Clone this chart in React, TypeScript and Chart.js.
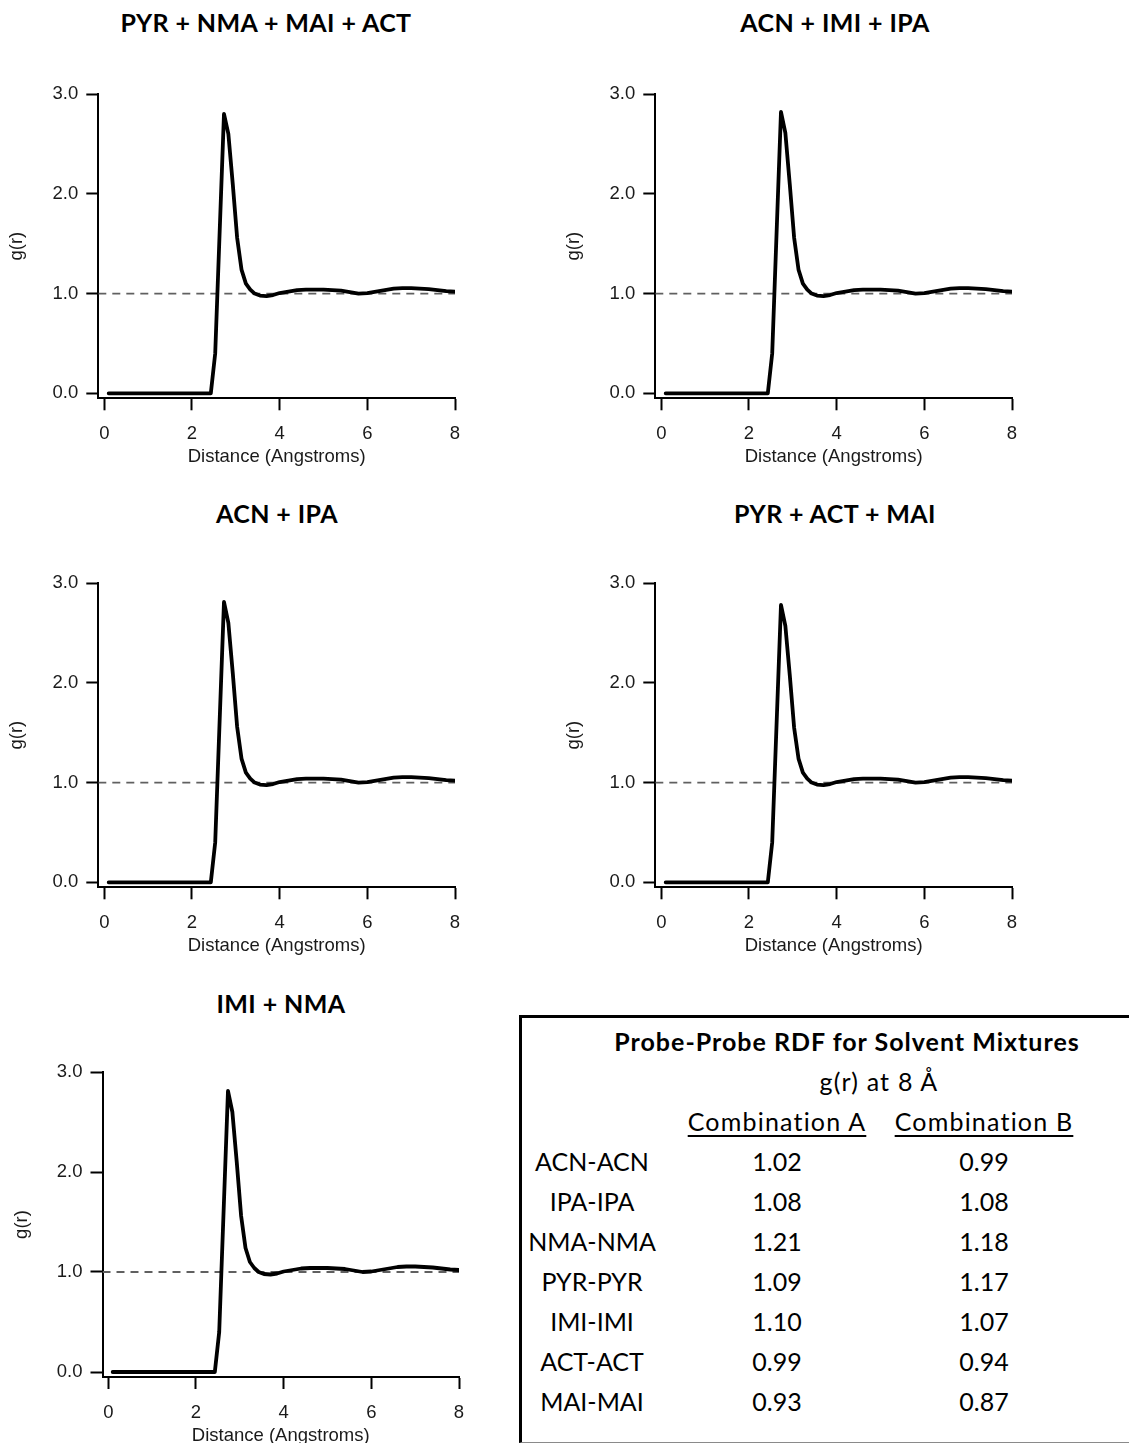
import React, { useEffect, useRef } from "react";
import { Chart, registerables } from "chart.js";

Chart.register(...registerables);

// ---------- DATA ----------
const R = [0.1, 2.43, 2.53, 2.73, 2.83, 2.93, 3.03, 3.13, 3.23, 3.33, 3.43, 3.55, 3.7, 3.85, 4.0, 4.2, 4.4, 4.6, 4.8, 5.0, 5.2, 5.4, 5.6, 5.8, 6.0, 6.2, 6.4, 6.6, 6.8, 7.0, 7.2, 7.4, 7.6, 7.8, 8.0];

const G_PYR_NMA_MAI_ACT = [0, 0, 0.4, 2.8, 2.6, 2.1, 1.56, 1.24, 1.1, 1.04, 1.0, 0.98, 0.975, 0.985, 1.005, 1.02, 1.035, 1.04, 1.04, 1.04, 1.035, 1.03, 1.015, 1.0, 1.005, 1.02, 1.035, 1.05, 1.055, 1.055, 1.05, 1.045, 1.035, 1.025, 1.02];
const G_ACN_IMI_IPA = [0, 0, 0.4, 2.82, 2.61, 2.1, 1.56, 1.24, 1.1, 1.04, 1.0, 0.98, 0.975, 0.985, 1.005, 1.02, 1.035, 1.04, 1.04, 1.04, 1.035, 1.03, 1.015, 1.0, 1.005, 1.02, 1.035, 1.05, 1.055, 1.055, 1.05, 1.045, 1.035, 1.025, 1.02];
const G_ACN_IPA = [0, 0, 0.4, 2.81, 2.6, 2.1, 1.56, 1.24, 1.1, 1.04, 1.0, 0.98, 0.975, 0.985, 1.005, 1.02, 1.035, 1.04, 1.04, 1.04, 1.035, 1.03, 1.015, 1.0, 1.005, 1.02, 1.035, 1.05, 1.055, 1.055, 1.05, 1.045, 1.035, 1.025, 1.02];
const G_PYR_ACT_MAI = [0, 0, 0.4, 2.78, 2.57, 2.08, 1.55, 1.24, 1.1, 1.04, 1.0, 0.98, 0.975, 0.985, 1.005, 1.02, 1.035, 1.04, 1.04, 1.04, 1.035, 1.03, 1.015, 1.0, 1.005, 1.02, 1.035, 1.05, 1.055, 1.055, 1.05, 1.045, 1.035, 1.025, 1.02];
const G_IMI_NMA = [0, 0, 0.4, 2.81, 2.6, 2.1, 1.56, 1.24, 1.1, 1.04, 1.0, 0.98, 0.975, 0.985, 1.005, 1.02, 1.035, 1.04, 1.04, 1.04, 1.035, 1.03, 1.015, 1.0, 1.005, 1.02, 1.035, 1.05, 1.055, 1.055, 1.05, 1.045, 1.035, 1.025, 1.02];

const X_TICKS = [0, 2, 4, 6, 8];
const Y_TICKS = [0, 1, 2, 3];
const Y_TICK_LABELS = ["0.0", "1.0", "2.0", "3.0"];
const REF_Y = 1.0;
const X_MAX = 8;
const Y_MAX = 3;

const TABLE_PAIRS = ["ACN-ACN", "IPA-IPA", "NMA-NMA", "PYR-PYR", "IMI-IMI", "ACT-ACT", "MAI-MAI"];
const COMBINATION_A = ["1.02", "1.08", "1.21", "1.09", "1.10", "0.99", "0.93"];
const COMBINATION_B = ["0.99", "1.08", "1.18", "1.17", "1.07", "0.94", "0.87"];

// ---------- LAYOUT ----------
const AXIS_FONT = "'Liberation Sans', Arial, sans-serif";
const TEXT_FONT = "Lato, 'Open Sans', sans-serif";
const Y_AXIS_W = 98;
const X_AXIS_H = 82;
const PAD_TOP = 34;
const AXIS_FONT_SIZE = 18.5;

type PanelSpec = {
  title: string;
  g: number[];
  areaLeft: number;
  x0: number;
  areaRight: number;
  areaTop: number;
  y0: number;
  areaBottom: number;
  titleX: number;
  titleY: number;
};

const PANELS: PanelSpec[] = [
  { title: "PYR + NMA + MAI + ACT", g: G_PYR_NMA_MAI_ACT, areaLeft: 98.3, x0: 104.3, areaRight: 455, areaTop: 94, y0: 393.3, areaBottom: 398.3, titleX: 266, titleY: 22 },
  { title: "ACN + IMI + IPA", g: G_ACN_IMI_IPA, areaLeft: 655.3, x0: 661.3, areaRight: 1012, areaTop: 94, y0: 393.3, areaBottom: 398.3, titleX: 835, titleY: 22 },
  { title: "ACN + IPA", g: G_ACN_IPA, areaLeft: 98.3, x0: 104.3, areaRight: 455, areaTop: 583, y0: 882.3, areaBottom: 887.3, titleX: 277, titleY: 513 },
  { title: "PYR + ACT + MAI", g: G_PYR_ACT_MAI, areaLeft: 655.3, x0: 661.3, areaRight: 1012, areaTop: 583, y0: 882.3, areaBottom: 887.3, titleX: 835, titleY: 513 },
  { title: "IMI + NMA", g: G_IMI_NMA, areaLeft: 102.5, x0: 108.3, areaRight: 459, areaTop: 1072, y0: 1372, areaBottom: 1377, titleX: 281, titleY: 1003 },
];

function Panel({ spec }: { spec: PanelSpec }) {
  const ref = useRef<HTMLCanvasElement | null>(null);
  const canvasLeft = Math.floor(spec.areaLeft - Y_AXIS_W);
  const padLeft = spec.areaLeft - Y_AXIS_W - canvasLeft;
  const canvasTop = Math.floor(spec.areaTop - PAD_TOP);
  const padTop = spec.areaTop - canvasTop;
  const areaW = spec.areaRight - spec.areaLeft;
  const areaH = spec.areaBottom - spec.areaTop;
  const canvasW = Math.ceil(Y_AXIS_W + padLeft + areaW + 20);
  const canvasH = Math.ceil(padTop + areaH + X_AXIS_H);
  const padRight = canvasW - padLeft - Y_AXIS_W - areaW;
  const padBottom = canvasH - padTop - areaH - X_AXIS_H;

  const xppu = (spec.areaRight - spec.x0) / X_MAX;
  const xMin = -(spec.x0 - spec.areaLeft) / xppu;
  const yppu = (spec.y0 - spec.areaTop) / Y_MAX;
  const yMin = -(spec.areaBottom - spec.y0) / yppu;

  useEffect(() => {
    if (!ref.current) return;
    const chart = new Chart(ref.current, {
      type: "line",
      data: {
        datasets: [
          {
            data: R.map((x, i) => ({ x, y: spec.g[i] })),
            borderColor: "#000",
            borderWidth: 3.8,
            pointRadius: 0,
            tension: 0,
            order: 1,
            borderJoinStyle: "round",
            borderCapStyle: "round",
          },
          {
            data: [
              { x: xMin, y: REF_Y },
              { x: X_MAX, y: REF_Y },
            ],
            borderColor: "#606060",
            borderWidth: 1.8,
            borderDash: [8, 6],
            pointRadius: 0,
            order: 2,
          },
        ],
      },
      options: {
        animation: false,
        responsive: false,
        maintainAspectRatio: false,
        events: [],
        layout: { padding: { left: padLeft, top: padTop, right: padRight, bottom: padBottom } },
        plugins: { legend: { display: false }, tooltip: { enabled: false }, title: { display: false } },
        scales: {
          x: {
            type: "linear",
            min: xMin,
            max: X_MAX,
            afterBuildTicks: (s: any) => {
              s.ticks = X_TICKS.map((v) => ({ value: v }));
            },
            afterFit: (s: any) => {
              s.height = X_AXIS_H;
            },
            grid: { drawOnChartArea: false, drawTicks: true, tickLength: 12, tickWidth: 2, color: "#000" },
            border: { display: true, color: "#000", width: 2 },
            ticks: {
              font: { family: AXIS_FONT, size: AXIS_FONT_SIZE },
              color: "#1a1a1a",
              padding: 13,
              maxRotation: 0,
              autoSkip: false,
              callback: (v: any) => String(v),
            },
            title: {
              display: true,
              text: "Distance (Angstroms)",
              font: { family: AXIS_FONT, size: AXIS_FONT_SIZE },
              color: "#1a1a1a",
              padding: { top: 0, bottom: 12 },
            },
          },
          y: {
            type: "linear",
            min: yMin,
            max: Y_MAX,
            afterBuildTicks: (s: any) => {
              s.ticks = Y_TICKS.map((v) => ({ value: v }));
            },
            afterFit: (s: any) => {
              s.width = Y_AXIS_W;
            },
            grid: { drawOnChartArea: false, drawTicks: true, tickLength: 12, tickWidth: 2, color: "#000" },
            border: { display: true, color: "#000", width: 2 },
            ticks: {
              font: { family: AXIS_FONT, size: AXIS_FONT_SIZE },
              color: "#1a1a1a",
              padding: 8,
              autoSkip: false,
              callback: (v: any) => {
                const i = Y_TICKS.indexOf(Number(v));
                return i >= 0 ? Y_TICK_LABELS[i] : "";
              },
            },
            title: {
              display: true,
              text: "g(r)",
              font: { family: AXIS_FONT, size: AXIS_FONT_SIZE },
              color: "#1a1a1a",
              padding: { top: 6, bottom: 0 },
            },
          },
        },
      },
    } as any);
    return () => chart.destroy();
  }, []);

  return (
    <>
      <div
        style={{
          position: "absolute",
          left: spec.titleX,
          top: spec.titleY,
          transform: "translate(-50%, -50%)",
          fontFamily: TEXT_FONT,
          fontWeight: 700,
          fontSize: 25,
          letterSpacing: "0.4px",
          lineHeight: "28px",
          whiteSpace: "nowrap",
          color: "#000",
        }}
      >
        {spec.title}
      </div>
      <canvas
        ref={ref}
        width={canvasW}
        height={canvasH}
        style={{ position: "absolute", left: canvasLeft, top: canvasTop, width: canvasW, height: canvasH }}
      />
    </>
  );
}

function T({ x, y, children, bold, underline, spacing }: { x: number; y: number; children: any; bold?: boolean; underline?: boolean; spacing?: number }) {
  return (
    <div
      style={{
        position: "absolute",
        left: x,
        top: y,
        transform: "translate(-50%, -50%)",
        fontFamily: TEXT_FONT,
        fontWeight: bold ? 700 : 400,
        fontSize: 25,
        letterSpacing: spacing ? `${spacing}px` : "normal",
        lineHeight: "30px",
        whiteSpace: "nowrap",
        color: "#000",
        textDecoration: underline ? "underline" : "none",
        textDecorationThickness: underline ? "2px" : undefined,
        textUnderlineOffset: underline ? "4px" : undefined,
      }}
    >
      {children}
    </div>
  );
}

function SummaryTable() {
  return (
    <>
      <div
        style={{
          position: "absolute",
          left: 519,
          top: 1015,
          width: 700,
          height: 424,
          borderLeft: "3px solid #000",
          borderTop: "3px solid #000",
          borderBottom: "1px solid #8a8a8a",
        }}
      />
      <T x={847} y={1041} bold spacing={1}>
        Probe-Probe RDF for Solvent Mixtures
      </T>
      <T x={879} y={1081} spacing={1.2}>g(r) at 8 Å</T>
      <T x={777} y={1121} underline spacing={1.2}>
        Combination A
      </T>
      <T x={984} y={1121} underline spacing={1.2}>
        Combination B
      </T>
      {TABLE_PAIRS.map((p, i) => (
        <React.Fragment key={p}>
          <T x={592} y={1161 + 40 * i}>{p}</T>
          <T x={777} y={1161 + 40 * i}>{COMBINATION_A[i]}</T>
          <T x={984} y={1161 + 40 * i}>{COMBINATION_B[i]}</T>
        </React.Fragment>
      ))}
    </>
  );
}

export default function App() {
  useEffect(() => {
    document.body.style.margin = "0";
    document.body.style.overflow = "hidden";
    document.documentElement.style.overflow = "hidden";
  }, []);
  return (
    <div
      style={{
        position: "absolute",
        left: 0,
        top: 0,
        width: 1129,
        height: 1443,
        overflow: "hidden",
        background: "#fff",
      }}
    >
      {PANELS.map((p) => (
        <Panel key={p.title} spec={p} />
      ))}
      <SummaryTable />
    </div>
  );
}
